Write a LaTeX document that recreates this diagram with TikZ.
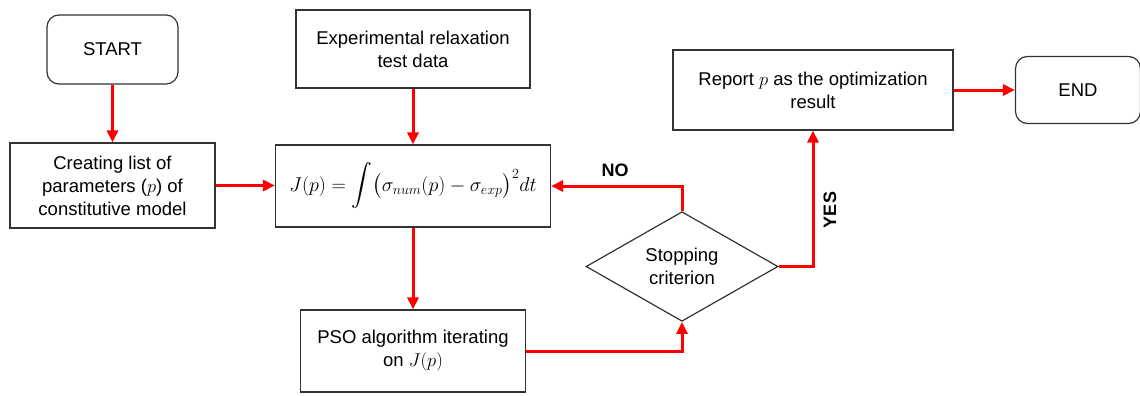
\RequirePackage{fix-cm}
\documentclass[tikz,border=0pt]{standalone}
\usepackage{amsmath}
\usepackage{fontspec}
\setmainfont{Liberation Sans}
\usetikzlibrary{arrows.meta,shapes.geometric}
\begin{document}
\begin{tikzpicture}[x=1pt,y=-1pt,
  boxst/.style={draw=black!80,line width=1.2pt,align=center,
    font=\fontsize{18.5}{23}\selectfont,inner sep=0pt},
  rbox/.style={boxst,rounded corners=12pt},
  flow/.style={draw=red,line width=3pt,
    -{Triangle[length=12pt,width=11pt]}},
  lbl/.style={font=\fontsize{18}{22}\selectfont\bfseries}]
\useasboundingbox (0,0) rectangle (1140,396);
\node[rbox,minimum width=131pt,minimum height=69pt] (start) at (112.5,49.5) {START};
\node[boxst,minimum width=205pt,minimum height=85pt] (creating) at (112.5,185.5)
  {Creating list of\\parameters ($p$) of\\constitutive model};
\node[boxst,minimum width=234pt,minimum height=78pt] (exp) at (413,49)
  {Experimental relaxation\\test data};
\node[boxst,minimum width=275pt,minimum height=82pt,font=\fontsize{20}{24}\selectfont] (J) at (413,186)
  {$J(p)=\displaystyle\int\bigl(\sigma_{num}(p)-\sigma_{exp}\bigr)^2dt$};
\node[boxst,minimum width=225pt,minimum height=82pt] (pso) at (413,351)
  {PSO algorithm iterating\\on $J(p)$};
\node[boxst,diamond,minimum width=192pt,minimum height=107pt] (dia) at (682,266.5)
  {Stopping\\criterion};
\node[boxst,minimum width=280pt,minimum height=80pt] (report) at (813,90)
  {Report $p$ as the optimization\\result};
\node[rbox,minimum width=125pt,minimum height=67pt] (end) at (1078,90) {END};

\draw[flow] (start) -- (creating);
\draw[flow] (creating.east) -- (creating.east -| J.west);
\draw[flow] (exp) -- (J);
\draw[flow] (J) -- (pso);
\draw[flow] (pso.east) -| (dia.south);
\draw[flow] (dia.north) |- (J.east);
\draw[flow] (dia.east) -| (report.south);
\draw[flow] (report.east) -- (end.west);
\node[lbl] (no) at (615,170) {NO};
\node[lbl,rotate=90] (yes) at (830,210) {YES};
\end{tikzpicture}
\end{document}
